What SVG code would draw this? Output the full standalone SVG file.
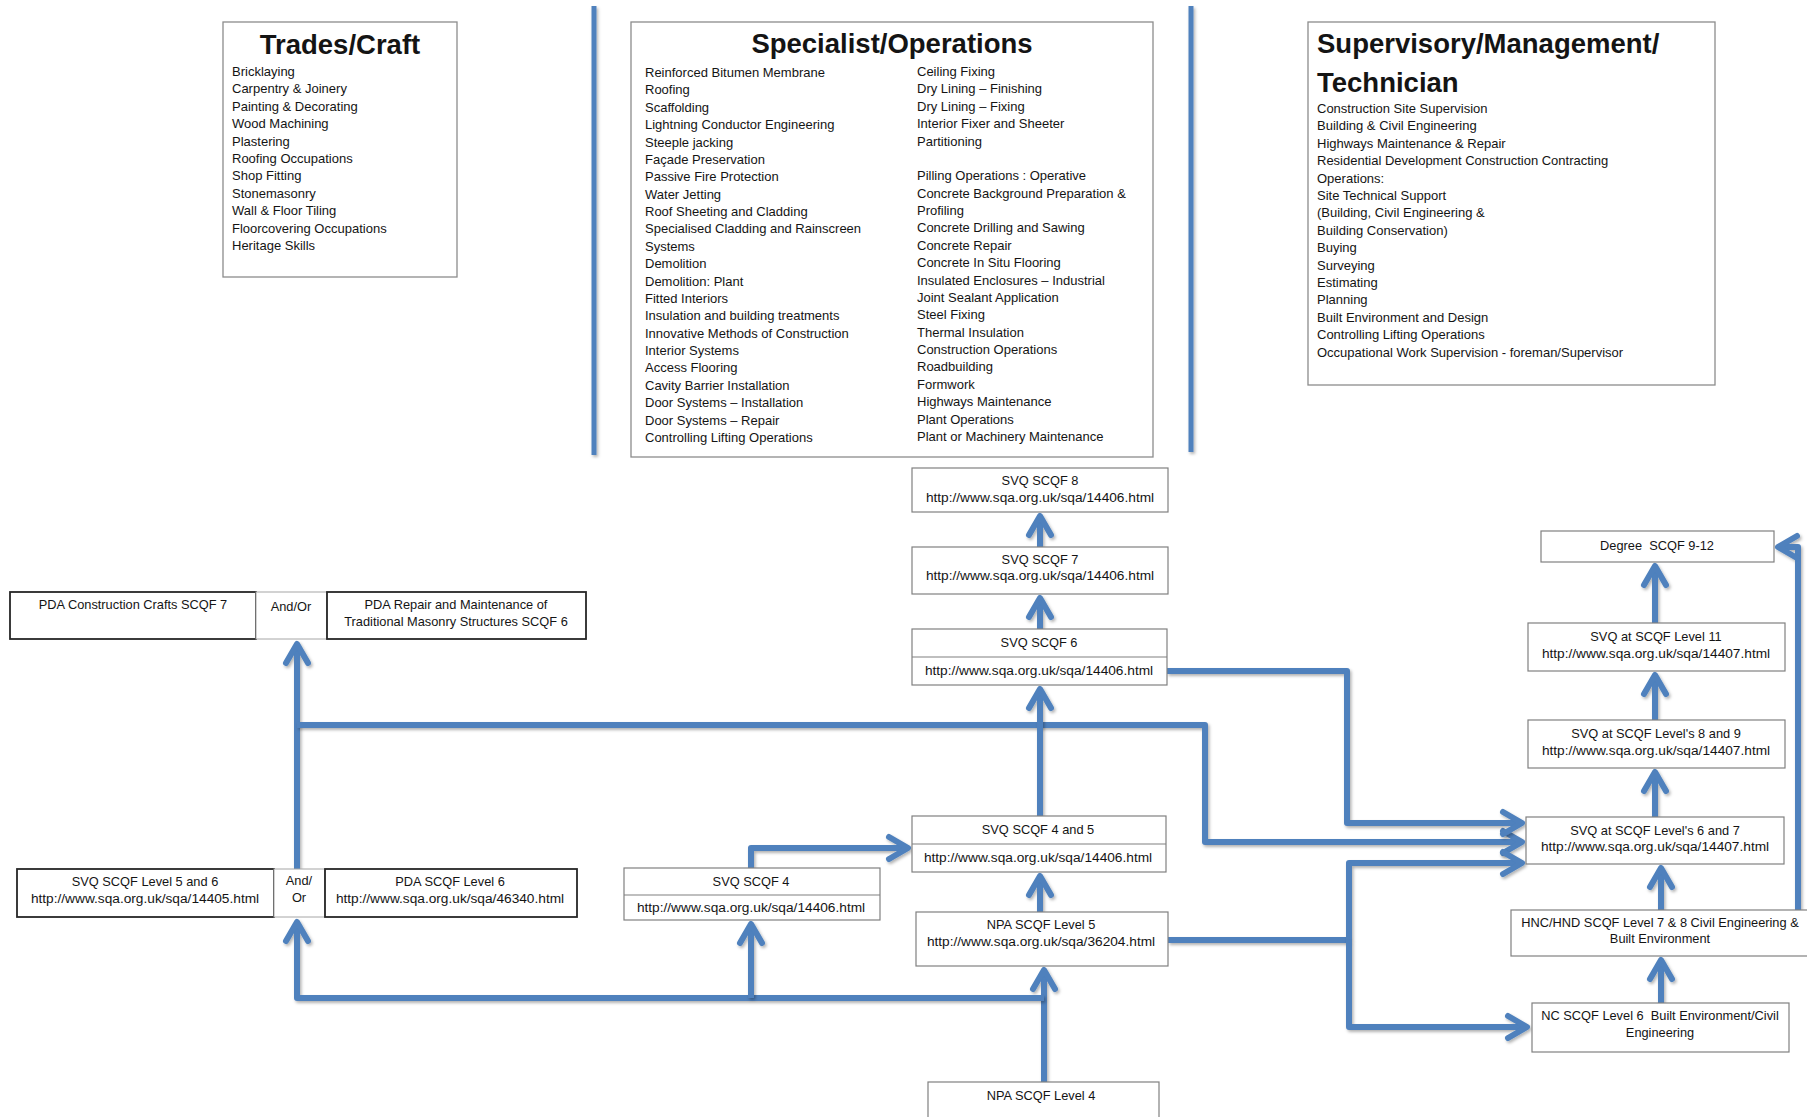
<svg xmlns="http://www.w3.org/2000/svg" width="1807" height="1117" viewBox="0 0 1807 1117">
<style>
  text { font-family: "Liberation Sans", Arial, sans-serif; fill: #141414; }
  .title { font-size: 27.5px; font-weight: bold; }
  .item { font-size: 13px; }
  .lbl { font-size: 12.8px; text-anchor: middle; white-space: pre; }
  .url { font-size: 13.7px; text-anchor: middle; }
  .panel { fill: #fff; stroke: #8c8c8c; stroke-width: 1.3; }
  .box { fill: #fff; stroke: #808080; stroke-width: 1.2; }
  .dark { fill: #fff; stroke: #262626; stroke-width: 1.8; }
  .light { fill: #fff; stroke: #a6a6a6; stroke-width: 1; }
  .div { stroke: #808080; stroke-width: 1.2; }
  .conn { fill: none; stroke: #4F81BD; stroke-width: 6; stroke-linejoin: round; filter: url(#sh); }
  .arr { marker-end: url(#ah); }
  .sep { stroke: #4F81BD; stroke-width: 5; filter: url(#sh); }
</style>
<defs>
  <filter id="sh" filterUnits="userSpaceOnUse" x="0" y="0" width="1807" height="1117">
    <feDropShadow dx="1.5" dy="2" stdDeviation="1.5" flood-color="#000" flood-opacity="0.3"/>
  </filter>
  <marker id="ah" markerUnits="userSpaceOnUse" viewBox="-25 -15 30 30" markerWidth="30" markerHeight="30" refX="0" refY="0" orient="auto" overflow="visible">
    <path d="M-19,-11 L0,0 L-19,11" fill="none" stroke="#4F81BD" stroke-width="6" stroke-linejoin="round" stroke-linecap="round"/>
  </marker>
</defs>
<rect width="1807" height="1117" fill="#fff"/>

<g id="separators">
  <line class="sep" x1="594" y1="6" x2="594" y2="455"/>
  <line class="sep" x1="1191" y1="6" x2="1191" y2="452"/>
</g>

<g id="connectors">
  <path class="conn arr" d="M297,869 L297,644"/>
  <path class="conn arr" d="M297,725 L1205,725 L1205,842 L1522,842"/>
  <path class="conn arr" d="M1167,671 L1347,671 L1347,823 L1522,823"/>
  <path class="conn" d="M1168,940 L1349,940"/>
  <path class="conn arr" d="M1349,940 L1349,863 L1522,863"/>
  <path class="conn arr" d="M1349,940 L1349,1027 L1527,1027"/>
  <path class="conn arr" d="M1040,816 L1040,689"/>
  <path class="conn arr" d="M1040,629 L1040,598"/>
  <path class="conn arr" d="M1040,547 L1040,516"/>
  <path class="conn arr" d="M1040,912 L1040,876"/>
  <path class="conn arr" d="M1044,1082 L1044,970"/>
  <path class="conn arr" d="M1044,998 L297,998 L297,922"/>
  <path class="conn arr" d="M751,998 L751,924"/>
  <path class="conn arr" d="M751,868 L751,848 L908,848"/>
  <path class="conn arr" d="M1661,1003 L1661,960"/>
  <path class="conn arr" d="M1661,910 L1661,868"/>
  <path class="conn arr" d="M1655,817 L1655,772"/>
  <path class="conn arr" d="M1655,720 L1655,675"/>
  <path class="conn arr" d="M1655,623 L1655,566"/>
  <path class="conn arr" d="M1798,910 L1798,547 L1778,547"/>
</g>

<g id="trades">
  <rect class="panel" x="223" y="22" width="234" height="255"/>
  <text class="title" x="340" y="54" text-anchor="middle">Trades/Craft</text>
  <text class="item" x="232" y="76">
    <tspan x="232" dy="0">Bricklaying</tspan>
    <tspan x="232" dy="17.4">Carpentry &amp; Joinery</tspan>
    <tspan x="232" dy="17.4">Painting &amp; Decorating</tspan>
    <tspan x="232" dy="17.4">Wood Machining</tspan>
    <tspan x="232" dy="17.4">Plastering</tspan>
    <tspan x="232" dy="17.4">Roofing Occupations</tspan>
    <tspan x="232" dy="17.4">Shop Fitting</tspan>
    <tspan x="232" dy="17.4">Stonemasonry</tspan>
    <tspan x="232" dy="17.4">Wall &amp; Floor Tiling</tspan>
    <tspan x="232" dy="17.4">Floorcovering Occupations</tspan>
    <tspan x="232" dy="17.4">Heritage Skills</tspan>
  </text>
</g>

<g id="specialist">
  <rect class="panel" x="631" y="22" width="522" height="435"/>
  <text class="title" x="892" y="53" text-anchor="middle">Specialist/Operations</text>
  <text class="item" x="645" y="77">
    <tspan x="645" dy="0">Reinforced Bitumen Membrane</tspan>
    <tspan x="645" dy="17.38">Roofing</tspan>
    <tspan x="645" dy="17.38">Scaffolding</tspan>
    <tspan x="645" dy="17.38">Lightning Conductor Engineering</tspan>
    <tspan x="645" dy="17.38">Steeple jacking</tspan>
    <tspan x="645" dy="17.38">Façade Preservation</tspan>
    <tspan x="645" dy="17.38">Passive Fire Protection</tspan>
    <tspan x="645" dy="17.38">Water Jetting</tspan>
    <tspan x="645" dy="17.38">Roof Sheeting and Cladding</tspan>
    <tspan x="645" dy="17.38">Specialised Cladding and Rainscreen</tspan>
    <tspan x="645" dy="17.38">Systems</tspan>
    <tspan x="645" dy="17.38">Demolition</tspan>
    <tspan x="645" dy="17.38">Demolition: Plant</tspan>
    <tspan x="645" dy="17.38">Fitted Interiors</tspan>
    <tspan x="645" dy="17.38">Insulation and building treatments</tspan>
    <tspan x="645" dy="17.38">Innovative Methods of Construction</tspan>
    <tspan x="645" dy="17.38">Interior Systems</tspan>
    <tspan x="645" dy="17.38">Access Flooring</tspan>
    <tspan x="645" dy="17.38">Cavity Barrier Installation</tspan>
    <tspan x="645" dy="17.38">Door Systems – Installation</tspan>
    <tspan x="645" dy="17.38">Door Systems – Repair</tspan>
    <tspan x="645" dy="17.38">Controlling Lifting Operations</tspan>
  </text>
  <text class="item" x="917" y="76">
    <tspan x="917" dy="0">Ceiling Fixing</tspan>
    <tspan x="917" dy="17.38">Dry Lining – Finishing</tspan>
    <tspan x="917" dy="17.38">Dry Lining – Fixing</tspan>
    <tspan x="917" dy="17.38">Interior Fixer and Sheeter</tspan>
    <tspan x="917" dy="17.38">Partitioning</tspan>
    <tspan x="917" dy="34.76">Pilling Operations : Operative</tspan>
    <tspan x="917" dy="17.38">Concrete Background Preparation &amp;</tspan>
    <tspan x="917" dy="17.38">Profiling</tspan>
    <tspan x="917" dy="17.38">Concrete Drilling and Sawing</tspan>
    <tspan x="917" dy="17.38">Concrete Repair</tspan>
    <tspan x="917" dy="17.38">Concrete In Situ Flooring</tspan>
    <tspan x="917" dy="17.38">Insulated Enclosures – Industrial</tspan>
    <tspan x="917" dy="17.38">Joint Sealant Application</tspan>
    <tspan x="917" dy="17.38">Steel Fixing</tspan>
    <tspan x="917" dy="17.38">Thermal Insulation</tspan>
    <tspan x="917" dy="17.38">Construction Operations</tspan>
    <tspan x="917" dy="17.38">Roadbuilding</tspan>
    <tspan x="917" dy="17.38">Formwork</tspan>
    <tspan x="917" dy="17.38">Highways Maintenance</tspan>
    <tspan x="917" dy="17.38">Plant Operations</tspan>
    <tspan x="917" dy="17.38">Plant or Machinery Maintenance</tspan>
  </text>
</g>

<g id="supervisory">
  <rect class="panel" x="1308" y="22" width="407" height="363"/>
  <text class="title" x="1317" y="53">Supervisory/Management/</text>
  <text class="title" x="1317" y="92">Technician</text>
  <text class="item" x="1317" y="113">
    <tspan x="1317" dy="0">Construction Site Supervision</tspan>
    <tspan x="1317" dy="17.4">Building &amp; Civil Engineering</tspan>
    <tspan x="1317" dy="17.4">Highways Maintenance &amp; Repair</tspan>
    <tspan x="1317" dy="17.4">Residential Development Construction Contracting</tspan>
    <tspan x="1317" dy="17.4">Operations:</tspan>
    <tspan x="1317" dy="17.4">Site Technical Support</tspan>
    <tspan x="1317" dy="17.4">(Building, Civil Engineering &amp;</tspan>
    <tspan x="1317" dy="17.4">Building Conservation)</tspan>
    <tspan x="1317" dy="17.4">Buying</tspan>
    <tspan x="1317" dy="17.4">Surveying</tspan>
    <tspan x="1317" dy="17.4">Estimating</tspan>
    <tspan x="1317" dy="17.4">Planning</tspan>
    <tspan x="1317" dy="17.4">Built Environment and Design</tspan>
    <tspan x="1317" dy="17.4">Controlling Lifting Operations</tspan>
    <tspan x="1317" dy="17.4">Occupational Work Supervision - foreman/Supervisor</tspan>
  </text>
</g>

<g id="pda-crafts">
  <rect class="dark" x="10" y="592" width="246" height="47"/>
  <text class="lbl" x="133" y="609">PDA Construction Crafts SCQF 7</text>
</g>
<g id="andor-top">
  <rect class="light" x="256" y="592" width="71" height="47"/>
  <text class="lbl" x="291" y="611">And/Or</text>
</g>
<g id="pda-repair">
  <rect class="dark" x="327" y="592" width="259" height="47"/>
  <text class="lbl" x="456" y="609">PDA Repair and Maintenance of</text>
  <text class="lbl" x="456" y="626">Traditional Masonry Structures SCQF 6</text>
</g>

<g id="svq8">
  <rect class="box" x="912" y="468" width="256" height="44"/>
  <text class="lbl" x="1040" y="485">SVQ SCQF 8</text>
  <text class="url" x="1040" y="502">http://www.sqa.org.uk/sqa/14406.html</text>
</g>
<g id="svq7">
  <rect class="box" x="912" y="547" width="256" height="47"/>
  <text class="lbl" x="1040" y="564">SVQ SCQF 7</text>
  <text class="url" x="1040" y="580">http://www.sqa.org.uk/sqa/14406.html</text>
</g>
<g id="svq6">
  <rect class="box" x="912" y="629" width="255" height="56"/>
  <line class="div" x1="912" y1="657" x2="1167" y2="657"/>
  <text class="lbl" x="1039" y="647">SVQ SCQF 6</text>
  <text class="url" x="1039" y="675">http://www.sqa.org.uk/sqa/14406.html</text>
</g>
<g id="svq45">
  <rect class="box" x="912" y="816" width="254" height="56"/>
  <line class="div" x1="912" y1="844" x2="1166" y2="844"/>
  <text class="lbl" x="1038" y="834">SVQ SCQF 4 and 5</text>
  <text class="url" x="1038" y="862">http://www.sqa.org.uk/sqa/14406.html</text>
</g>
<g id="npa5">
  <rect class="box" x="916" y="912" width="252" height="54"/>
  <text class="lbl" x="1041" y="929">NPA SCQF Level 5</text>
  <text class="url" x="1041" y="946">http://www.sqa.org.uk/sqa/36204.html</text>
</g>
<g id="npa4">
  <rect class="box" x="928" y="1082" width="231" height="45"/>
  <text class="lbl" x="1041" y="1100">NPA SCQF Level 4</text>
</g>

<g id="svq56">
  <rect class="dark" x="17" y="869" width="257" height="48"/>
  <text class="lbl" x="145" y="886">SVQ SCQF Level 5 and 6</text>
  <text class="url" x="145" y="903">http://www.sqa.org.uk/sqa/14405.html</text>
</g>
<g id="andor-bottom">
  <rect class="light" x="274" y="869" width="51" height="48"/>
  <text class="lbl" x="299" y="885">And/</text>
  <text class="lbl" x="299" y="902">Or</text>
</g>
<g id="pda6">
  <rect class="dark" x="325" y="869" width="252" height="48"/>
  <text class="lbl" x="450" y="886">PDA SCQF Level 6</text>
  <text class="url" x="450" y="903">http://www.sqa.org.uk/sqa/46340.html</text>
</g>
<g id="svq4">
  <rect class="box" x="624" y="868" width="256" height="52"/>
  <line class="div" x1="624" y1="895" x2="880" y2="895"/>
  <text class="lbl" x="751" y="886">SVQ SCQF 4</text>
  <text class="url" x="751" y="912">http://www.sqa.org.uk/sqa/14406.html</text>
</g>

<g id="degree">
  <rect class="box" x="1541" y="531" width="233" height="31"/>
  <text class="lbl" x="1657" y="550">Degree  SCQF 9-12</text>
</g>
<g id="svq11">
  <rect class="box" x="1528" y="623" width="257" height="48"/>
  <text class="lbl" x="1656" y="641">SVQ at SCQF Level 11</text>
  <text class="url" x="1656" y="658">http://www.sqa.org.uk/sqa/14407.html</text>
</g>
<g id="svq89">
  <rect class="box" x="1528" y="720" width="257" height="48"/>
  <text class="lbl" x="1656" y="738">SVQ at SCQF Level's 8 and 9</text>
  <text class="url" x="1656" y="755">http://www.sqa.org.uk/sqa/14407.html</text>
</g>
<g id="svq67">
  <rect class="box" x="1526" y="817" width="258" height="47"/>
  <text class="lbl" x="1655" y="835">SVQ at SCQF Level's 6 and 7</text>
  <text class="url" x="1655" y="851">http://www.sqa.org.uk/sqa/14407.html</text>
</g>
<g id="hnc">
  <rect class="box" x="1511" y="910" width="300" height="46"/>
  <text class="lbl" x="1660" y="927">HNC/HND SCQF Level 7 &amp; 8 Civil Engineering &amp;</text>
  <text class="lbl" x="1660" y="943">Built Environment</text>
</g>
<g id="nc">
  <rect class="box" x="1532" y="1003" width="257" height="49"/>
  <text class="lbl" x="1660" y="1020">NC SCQF Level 6  Built Environment/Civil</text>
  <text class="lbl" x="1660" y="1037">Engineering</text>
</g>
</svg>
